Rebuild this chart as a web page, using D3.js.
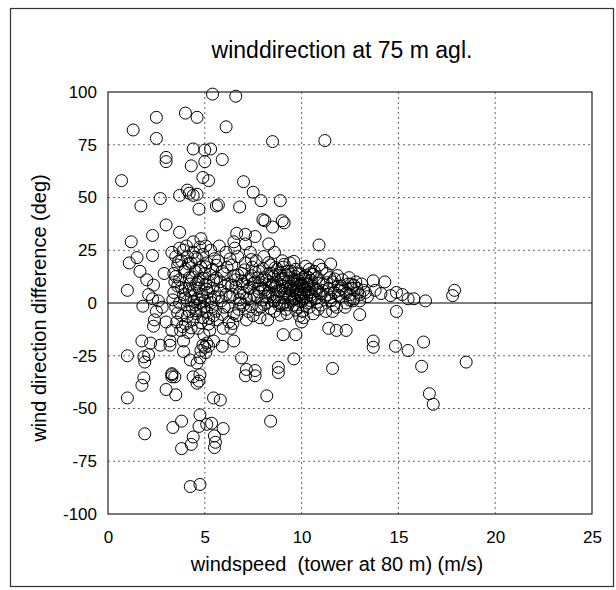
<!DOCTYPE html>
<meta charset="utf-8">
<style>
  body { margin: 0; background: #fff; }
  text { font-family: "Liberation Sans", Arial, sans-serif; fill: #000; }
</style>
<div id="chart"></div>
<script src="https://d3js.org/d3.v7.min.js"></script>
<script>

// windspeed (m/s), direction difference (deg)
var highOutliers = [
  [5.4,99],[6.6,98],[2.5,88],[4.0,90],[4.6,88],[1.3,82],[6.1,83.5],[2.5,78],[8.5,76.5],[11.2,77],
  [4.4,73],[5.0,72.5],[5.3,73],[3.0,69],[3.0,67],[5.0,67],[5.9,68],[4.3,65],[0.7,58],[4.9,59.5],
  [5.2,58],[7.0,57.5],[7.5,52.5],[4.1,53.5],[4.2,52],[4.4,51],[4.6,51.5],[3.7,51],[2.7,49.5],[1.7,46],
  [4.7,44.5],[5.6,46],[5.7,46.5],[6.8,45.5],[7.9,48.5],[8.9,48.5],[3.0,37],[3.7,33.5],[2.3,32],[1.2,29],
  [4.8,30.5],[8.0,39.5],[8.1,39],[8.5,36],[9.0,39],[9.1,38],[6.65,33],[7.1,32.5],[7.6,31.5],[6.5,29],
  [8.3,28],[7.1,28],[3.7,26],[4.4,29],[4.75,26.5],[10.9,27.5]
];

var lowSpeed = [
  [1.5,21.5],[1.1,19],[1.65,15],[2.3,22.5],[1.0,6],[2.35,8.5],[2.1,4],[2.3,2],[1.8,-1.5],[2.5,-4],
  [2.4,-8],[2.35,-11],[3.0,-9],[3.3,-13],[1.75,-18],[2.2,-19],[2.7,-20],[3.2,-18],[1.0,-25],[1.85,-25.5],
  [2.1,-24.5],[1.9,-28],[1.85,-35.5],[3.3,-33.5],[1.75,-39],[1.0,-45],[3.0,-41],[3.5,-43.5],[3.3,-35],[3.45,-35],
  [1.9,-62],[3.35,-59],[3.8,-56],[2.9,14],[2.6,1],[2.0,11],[2.8,-2]
];

var lowOutliers = [
  [4.4,-35],[4.7,-37],[4.6,-38],[5.45,-45],[5.8,-46],[7.1,-34.5],[7.6,-34.5],[8.8,-33],[8.2,-44],[8.4,-56],
  [4.75,-53],[4.7,-58.5],[5.1,-57.5],[5.35,-57],[5.95,-59.5],[5.5,-63],[5.55,-66],[5.5,-68.5],[4.4,-63.5],[4.3,-67],
  [3.8,-69],[4.25,-87],[4.75,-86],[3.9,-23],[4.25,-27],[4.6,-28.5],[4.75,-26],[5.2,-20.5],[4.9,-20],[5.45,-18],
  [4.75,-34],[3.3,-34],[6.5,-18],[5.9,-20.5],[3.9,-18],[3.2,-20],[6.9,-26],[7.15,-31.5],[7.6,-32],[8.8,-30.5],
  [9.6,-26.5],[9.05,-15],[9.7,-15],[5.0,-21],[4.8,-22.5],[5.1,-19],[5.05,-23.5]
];

var highSpeed = [
  [10.4,16],[10.9,18],[11.5,18.5],[13.7,10.5],[14.3,10],[13.8,6],[14.1,4.5],[14.6,3.5],[14.9,5],[15.2,4],
  [15.5,2],[15.8,2],[16.4,1],[17.9,6],[17.8,3.5],[14.9,-4],[13.0,-5.5],[11.6,-4],[10.1,-7],[10.0,-9],
  [11.4,-12],[11.8,-13],[12.3,-13],[13.7,-18],[13.7,-21],[14.85,-20.5],[15.5,-22.5],[16.3,-18.5],[11.6,-31],[16.2,-30],
  [18.5,-28],[16.6,-43],[16.8,-48]
];

var clusterLow = [
  [3.3,24],[3.5,22],[3.6,18],[3.4,14],[3.8,20],[3.9,25],[4.0,16],[4.1,22],[4.2,12],[4.3,19],
  [4.4,24],[4.5,15],[4.6,21],[4.7,11],[4.8,17],[4.9,23],[5.0,14],[5.1,19],[5.2,10],[5.3,25],
  [5.4,16],[5.5,21],[3.7,11],[4.05,27],[4.55,9],[5.05,27],
  [3.4,5],[3.5,-2],[3.6,8],[3.7,0],[3.8,-6],[3.9,4],[4.0,-10],[4.0,7],[4.1,1],[4.2,-4],
  [4.25,9],[4.3,3],[4.4,-8],[4.45,6],[4.5,-1],[4.6,2],[4.65,-12],[4.7,7],[4.8,-3],[4.85,4],
  [4.9,-7],[5.0,1],[5.05,9],[5.1,-4],[5.15,5],[5.2,-10],[5.3,2],[5.35,-2],[5.4,7],[5.45,-6],
  [3.55,-9],[3.75,-13],[4.15,-14],[4.55,-5],[4.95,-15],[5.25,-13],[3.45,10],[4.35,-2],[4.75,0],[5.5,3],
  [3.35,1.5],[3.5,12.6],[3.6,-4.7],[3.65,19.8],[3.8,7.3],[3.85,-11.2],[3.95,14.9],[4.0,2.4],[4.1,-6.3],[4.15,18.6],
  [4.2,5.7],[4.3,-11.8],[4.35,12.3],[4.45,0.8],[4.5,21.7],[4.55,-3.6],[4.65,9.9],[4.7,15.4],[4.8,-9.3],[4.85,3.1],
  [4.9,11.7],[4.95,-1.9],[5.05,17.1],[5.1,6.4],[5.2,-7.2],[5.25,13.5],[5.35,0.2],[5.45,10.8],[5.55,-3.9],[5.6,17.9]
];

var clusterMid = [
  [5.6,12],[5.7,20],[5.8,6],[5.9,15],[6.0,-2],[6.1,24],[6.2,9],[6.3,3],[6.4,18],[6.5,-5],
  [6.6,11],[6.7,22],[6.8,5],[6.9,14],[7.0,-1],[7.1,19],[7.2,8],[7.3,2],[7.4,13],[7.5,-6],
  [5.65,-8],[5.85,1],[6.05,8],[6.25,-9],[6.45,4],[6.55,26],[6.75,-3],[6.95,9],[7.15,-8],[7.35,24],
  [7.45,17],[5.75,27],[6.15,17],[6.85,0],[7.25,-4],[5.95,-12],[6.35,-12],[6.65,-6],
  [5.7,2.9],[5.8,10.1],[5.9,-5.4],[6.0,13.8],[6.1,4.1],[6.2,-1.7],[6.3,20.9],[6.4,8.3],[6.5,12.9],[6.45,-9.7],
  [6.6,7.5],[6.7,13.2],[6.8,1.6],[6.9,10.4],[7.0,4.8],[7.05,15.7],[7.15,2.3],[7.25,11.1],[7.3,6.9],[7.4,-1.8]
];

var clusterDense = [
  [7.6,10],[7.7,3],[7.8,15],[7.9,-2],[8.0,7],[8.1,12],[8.2,0],[8.3,5],[8.4,18],[8.5,9],
  [8.6,-4],[8.7,3],[8.8,13],[8.9,6],[9.0,-1],[9.1,10],[9.2,4],[9.3,15],[9.4,7],[9.5,1],
  [9.6,11],[9.7,5],[9.8,-2],[9.9,8],[10.0,3],[10.1,12],[10.2,6],[10.3,0],[10.4,9],[10.5,4],
  [7.65,20],[7.85,-7],[8.05,22],[8.25,-8],[8.45,14],[8.65,8],[8.85,0],[9.05,17],[9.25,-5],[9.45,12],
  [9.65,2],[9.85,14],[10.05,-4],[10.25,9],[10.45,14],[9.55,6],[9.75,9],[9.95,4],[10.15,7],[9.35,3],
  [9.15,7],[10.35,5],[9.8,11],[10.0,9],[9.6,-1],[9.9,1],[10.1,2],[9.45,8],[10.2,13],[9.7,16],
  [8.95,11],[8.75,16],[8.35,10],[8.15,3],[7.95,11],[7.75,7],[8.55,1],[9.2,-3],[10.4,-2],[9.0,20],
  [8.6,24],[9.4,19],
  [7.5,9.3],[7.55,3.7],[7.6,14.6],[7.7,-3.1],[7.75,11.9],[7.8,5.2],[7.9,8.6],[7.95,1.4],[8.0,16.3],[8.05,-0.7],
  [8.1,6.2],[8.2,10.8],[8.25,3.3],[8.3,13.9],[8.4,-2.6],[8.45,7.7],[8.5,4.1],[8.55,12.4],[8.6,0.9],[8.65,16.8],
  [8.7,9.8],[8.8,5.6],[8.85,-1.3],[8.9,14.2],[8.95,2.7],[9.0,8.1],[9.05,11.6],[9.1,0.3],[9.15,4.9],[9.2,13.3],
  [9.25,7.4],[9.3,-0.9],[9.35,10.2],[9.4,3.6],[9.45,15.1],[9.5,5.8],[9.55,9.1],[9.6,1.9],[9.65,12.7],[9.7,-3.4],
  [9.75,6.6],[9.8,3.9],[9.85,10.6],[9.9,5.1],[9.95,13.8],[10.0,0.6],[10.05,7.9],[10.1,4.4],[10.15,11.3],[10.2,-1.1],
  [10.25,2.8],[10.3,8.7],[10.35,12.1],[10.4,6.3],[10.45,1.2],[10.5,10.7],[10.55,3.2],[10.6,13.6],[10.7,6.8],[10.8,0.4],
  [10.9,9.4],[11.0,4.2],[9.1,18.3],[9.6,19.7],[8.3,19.1],[10.2,17.4],[7.4,20.6],[8.9,-5.8],[9.9,-6.2],[10.6,-5.1]
];

var clusterHigh = [
  [10.6,8],[10.7,2],[10.8,12],[10.9,5],[11.0,-1],[11.1,9],[11.2,3],[11.3,14],[11.4,7],[11.5,1],
  [11.6,10],[11.7,5],[11.8,-2],[11.9,8],[12.0,3],[12.1,11],[12.2,6],[12.3,0],[12.4,9],[12.5,4],
  [12.6,7],[12.7,2],[12.8,10],[12.9,5],[13.0,1],[13.2,6],[13.4,3],[10.65,15],[10.85,-3],[11.05,16],
  [11.25,-4],[11.45,12],[11.65,-1],[11.85,13],[12.05,8],[12.25,-2],[12.45,12],[12.65,1],[12.85,7],[13.1,9],
  [13.3,5],[10.75,6],[11.35,4],[11.95,6],[12.55,9],
  [11.1,5.9],[11.3,9.6],[11.5,2.6],[11.7,11.4],[11.9,3.7],[12.1,6.9],[12.3,4.6],[12.5,1.3],[12.7,8.4],[13.0,3.9]
];

var xTicks = [0, 5, 10, 15, 20, 25];
var yTicks = [-100, -75, -50, -25, 0, 25, 50, 75, 100];

var data = highOutliers.concat(lowSpeed, lowOutliers, highSpeed,
                               clusterLow, clusterMid, clusterDense, clusterHigh);

var margin = {top: 92, right: 24, bottom: 76, left: 108},
    width = 616 - margin.left - margin.right,
    height = 590 - margin.top - margin.bottom;

var root = d3.select("#chart")
  .append("svg")
    .attr("width", 616)
    .attr("height", 590);

// outer frame
root.append("rect")
  .attr("x", 10.5).attr("y", 8.5)
  .attr("width", 603).attr("height", 578)
  .attr("fill", "none")
  .attr("stroke", "#333")
  .attr("stroke-width", 1.2);

root.append("text")
  .attr("x", 342).attr("y", 58)
  .attr("text-anchor", "middle")
  .style("font-size", "23px")
  .text("winddirection at 75 m agl.");

var svg = root.append("g")
  .attr("transform", "translate(" + margin.left + "," + margin.top + ")");

var x = d3.scaleLinear().domain([0, 25]).range([0, width]);
var y = d3.scaleLinear().domain([-100, 100]).range([height, 0]);

// dotted grid
svg.append("g")
  .selectAll("line")
  .data(xTicks.slice(1, -1))
  .enter().append("line")
    .attr("x1", function(d) { return x(d); })
    .attr("x2", function(d) { return x(d); })
    .attr("y1", 0).attr("y2", height)
    .attr("stroke", "#666")
    .attr("stroke-dasharray", "2,3");

svg.append("g")
  .selectAll("line")
  .data(yTicks.filter(function(d) { return d != 0 && Math.abs(d) != 100; }))
  .enter().append("line")
    .attr("x1", 0).attr("x2", width)
    .attr("y1", function(d) { return y(d); })
    .attr("y2", function(d) { return y(d); })
    .attr("stroke", "#666")
    .attr("stroke-dasharray", "2,3");

// zero line
svg.append("line")
  .attr("x1", 0).attr("x2", width)
  .attr("y1", y(0)).attr("y2", y(0))
  .attr("stroke", "#000")
  .attr("stroke-width", 1.2);

svg.append("g")
  .call(d3.axisLeft(y).tickValues(yTicks).tickSize(0).tickPadding(11)
          .tickFormat(function(d) { return String(d); }))
  .call(function(g) { g.select(".domain").remove(); })
  .selectAll("text")
    .style("font-size", "17px")
    .style("font-family", "Liberation Sans, Arial, sans-serif")
    .attr("fill", "#000");

svg.append("g")
  .attr("transform", "translate(0," + height + ")")
  .call(d3.axisBottom(x).tickValues(xTicks).tickSize(0).tickPadding(17))
  .call(function(g) { g.select(".domain").remove(); })
  .selectAll("text")
    .style("font-size", "17px")
    .style("font-family", "Liberation Sans, Arial, sans-serif")
    .attr("fill", "#000");

svg.append("g")
  .selectAll("circle")
  .data(data)
  .enter().append("circle")
    .attr("cx", function(d) { return x(d[0]); })
    .attr("cy", function(d) { return y(d[1]); })
    .attr("r", 6)
    .attr("fill", "none")
    .attr("stroke", "#000")
    .attr("stroke-width", 1);

// plot frame
svg.append("rect")
  .attr("width", width).attr("height", height)
  .attr("fill", "none")
  .attr("stroke", "#222")
  .attr("stroke-width", 1.2);

root.append("text")
  .attr("x", 337).attr("y", 571)
  .attr("text-anchor", "middle")
  .attr("xml:space", "preserve")
  .style("font-size", "20px")
  .text("windspeed  (tower at 80 m) (m/s)");

root.append("text")
  .attr("transform", "translate(46,308)rotate(-90)")
  .attr("text-anchor", "middle")
  .style("font-size", "20px")
  .text("wind direction difference (deg)");

</script>
